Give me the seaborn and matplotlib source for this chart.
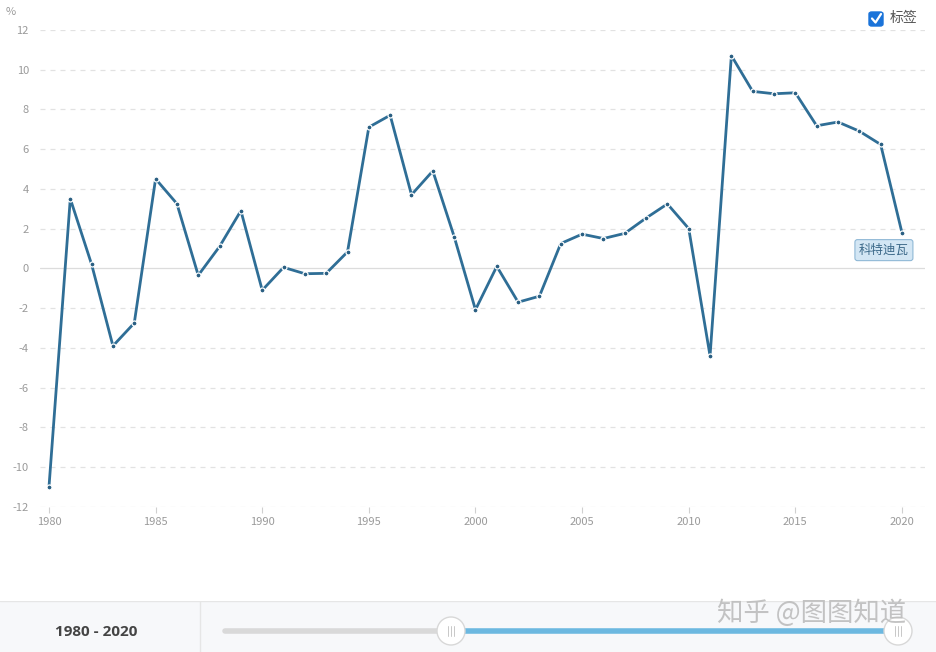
import numpy as np
import pandas as pd
import matplotlib
matplotlib.use("Agg")
import matplotlib.pyplot as plt
from matplotlib.lines import Line2D
from matplotlib.patches import Circle, FancyBboxPatch
import seaborn as sns

# data (annual %, Côte d'Ivoire)
years = list(range(1980, 2021))
values = [-11.0, 3.5, 0.2, -3.9, -2.75, 4.5, 3.25, -0.35, 1.1, 2.9,
          -1.1, 0.05, -0.27, -0.25, 0.83, 7.1, 7.7, 3.7, 4.9, 1.6,
          -2.08, 0.1, -1.7, -1.4, 1.25, 1.72, 1.5, 1.76, 2.53, 3.24,
          2.0, -4.4, 10.7, 8.9, 8.78, 8.83, 7.17, 7.36, 6.9, 6.23,
          1.79]
series_name = "科特迪瓦"
y_ticks = list(range(-12, 13, 2))
x_ticks = list(range(1980, 2021, 5))
range_text = "1980 - 2020"
checkbox_text = "标签"
unit_text = "%"
watermark = "知乎 @图图知道"

df = pd.DataFrame({"year": years, "value": values})

sns.set_theme(style="white")
plt.rcParams["font.family"] = ["Noto Sans CJK SC", "DejaVu Sans"]
plt.rcParams["axes.unicode_minus"] = False

line_color = "#2f6e96"
tick_color = "#9a9a9a"

fig = plt.figure(figsize=(9.37, 6.52), dpi=100)
fig.patch.set_facecolor("white")
ax = fig.add_axes([0.0427, 0.2224, 0.9445, 0.732])
ax.set_facecolor("white")

# grid: dashed lines, solid zero line
for t in y_ticks:
    if t == 0:
        ax.axhline(t, color="#dcdcdc", lw=0.9, ls="-", zorder=1)
    else:
        ax.axhline(t, color="#e2e2e2", lw=0.9, ls=(0, (4, 4)), zorder=1)

sns.lineplot(data=df, x="year", y="value", ax=ax, color=line_color, lw=2.0,
             marker="o", markersize=3.6, markerfacecolor="#2a5f82",
             markeredgecolor="white", markeredgewidth=0.9, zorder=3)

ax.set_xlim(1979.58, 2021.08)
ax.set_ylim(-12, 12)
ax.set_yticks(y_ticks)
ax.set_yticklabels([str(t) for t in y_ticks])
ax.set_xticks(x_ticks)
ax.set_xticklabels([str(t) for t in x_ticks])
ax.tick_params(axis="y", length=0, pad=8, labelsize=8, labelcolor=tick_color)
ax.tick_params(axis="x", length=4, width=0.8, color="#d0d0d0", pad=3,
               labelsize=8, labelcolor=tick_color, bottom=True)
for s in ax.spines.values():
    s.set_visible(False)
ax.set_xlabel("")
ax.set_ylabel("")

# series label box at last point
ax.annotate(series_name, xy=(years[-1], values[-1]), xytext=(-13, -12.5),
            textcoords="offset points", ha="center", va="center",
            fontsize=9, color="#3d6a8a", zorder=5,
            bbox=dict(boxstyle="round,pad=0.32,rounding_size=0.2",
                      fc="#d3e6f4", ec="#8fb8d6", lw=0.8))

# unit label
fig.text(11 / 937, 1 - 12 / 652, unit_text, fontsize=8, color=tick_color,
         ha="center", va="center")

# checkbox + label
cb = FancyBboxPatch((869 / 937, 1 - 26 / 652), 14 / 937, 14 / 652,
                    boxstyle="round,pad=0,rounding_size=0.003",
                    transform=fig.transFigure, fc="#1a73d9", ec="#1a73d9")
fig.add_artist(cb)
fig.add_artist(Line2D([872 / 937, 875.5 / 937, 881 / 937],
                      [1 - 18.5 / 652, 1 - 22.5 / 652, 1 - 14 / 652],
                      transform=fig.transFigure, color="white", lw=1.6))
fig.text(890 / 937, 1 - 18 / 652, checkbox_text, fontsize=10, color="#555555",
         ha="left", va="center")

# bottom range slider panel
panel = fig.add_axes([0, 0, 1, 51 / 652])
panel.set_facecolor("#f7f8fa")
panel.set_xlim(0, 937)
panel.set_ylim(652, 601)
panel.axis("off")
panel.add_patch(plt.Rectangle((0, 601), 937, 51, fc="#f7f8fa", ec="none"))
panel.plot([0, 937], [601, 601], color="#e6e6e6", lw=1)
panel.plot([200, 200], [601, 652], color="#e6e6e6", lw=1)
panel.text(96, 632, range_text, fontsize=11, fontweight="bold", color="#444444",
           ha="center", va="center", family=["Open Sans", "DejaVu Sans"])
panel.plot([225, 451], [631, 631], color="#d9d9d9", lw=4, solid_capstyle="round")
panel.plot([451, 898], [631, 631], color="#6cb8e0", lw=4, solid_capstyle="butt")
for cx in (451, 898):
    panel.add_patch(Circle((cx, 631), 14, fc="white", ec="#d8d8d8", lw=1, zorder=4))
    for dx in (-3, 0, 3):
        panel.plot([cx + dx, cx + dx], [626, 636], color="#c8c8c8", lw=0.7, zorder=5)

fig.text(812 / 937, 1 - 613 / 652, watermark, fontsize=19, color="#bdbdbd",
         ha="center", va="center", alpha=0.9)

fig.savefig("out.png", dpi=100, facecolor="white")
